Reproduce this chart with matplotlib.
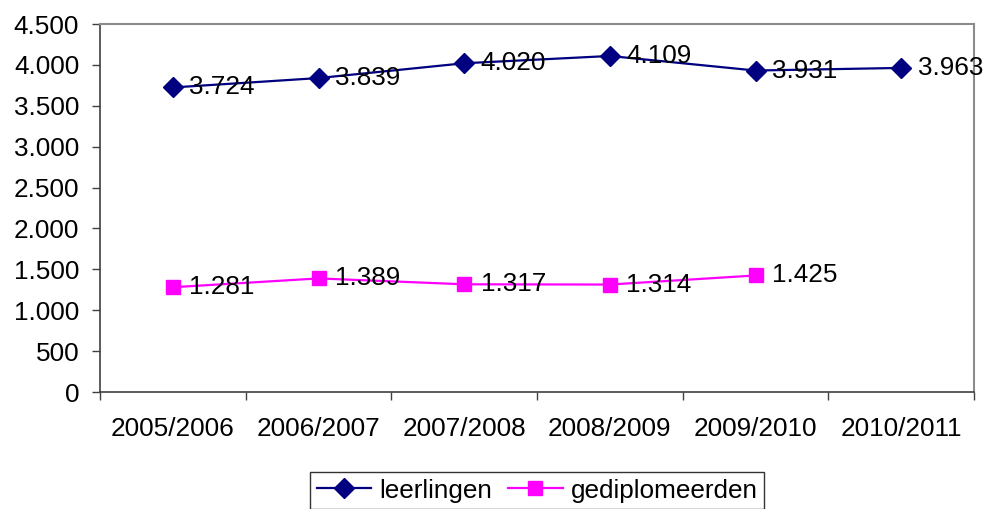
import matplotlib.pyplot as plt
from matplotlib.ticker import FuncFormatter

# Gegevens
jaren = ["2005/2006", "2006/2007", "2007/2008", "2008/2009", "2009/2010", "2010/2011"]
leerlingen = [3724, 3839, 4020, 4109, 3931, 3963]
gediplomeerden = [1281, 1389, 1317, 1314, 1425]

plt.rcParams['font.family'] = ['Liberation Sans', 'DejaVu Sans']
fs = 18.8

fig = plt.figure(figsize=(9.94, 5.09), dpi=100)
ax = fig.add_axes([100/994, 1 - 392/509, 874/994, 368/509])

x1 = list(range(len(leerlingen)))
x2 = list(range(len(gediplomeerden)))

ax.plot(x1, leerlingen, color='#000080', lw=1.6, marker='D', ms=10, label='leerlingen')
ax.plot(x2, gediplomeerden, color='#FF00FF', lw=1.6, marker='s', ms=10.5, label='gediplomeerden')

def fmt(v):
    return f"{v:,.0f}".replace(",", ".")

for x, y in zip(x1, leerlingen):
    ax.annotate(fmt(y), (x, y), xytext=(12, 0), textcoords='offset points',
                ha='left', va='center', fontsize=fs)
for x, y in zip(x2, gediplomeerden):
    ax.annotate(fmt(y), (x, y), xytext=(12, 0), textcoords='offset points',
                ha='left', va='center', fontsize=fs)

ax.set_xlim(-0.5, len(jaren) - 0.5)
ax.set_ylim(0, 4500)
ax.set_yticks(range(0, 4501, 500))
ax.yaxis.set_major_formatter(FuncFormatter(lambda v, p: fmt(v)))

ax.set_xticks(x1)
ax.set_xticklabels(jaren)
ax.set_xticks([i - 0.5 for i in range(len(jaren) + 1)], minor=True)
ax.tick_params(axis='x', which='major', length=0, pad=18, labelsize=fs)
ax.tick_params(axis='x', which='minor', length=6, width=1, color='#404040')
ax.tick_params(axis='y', length=6, width=1, color='#404040', pad=9, labelsize=fs)

for s in ['left', 'bottom']:
    ax.spines[s].set_color('#404040')
    ax.spines[s].set_linewidth(1.2)
for s in ['top', 'right']:
    ax.spines[s].set_color('#8c8c8c')
    ax.spines[s].set_linewidth(1.5)

leg = fig.legend(loc='upper center', bbox_to_anchor=(537/994, 37/509), ncol=2,
                 fontsize=fs, frameon=True, fancybox=False, edgecolor='black',
                 handlelength=2.1, columnspacing=0.6, handletextpad=0.3,
                 borderpad=0.25, borderaxespad=0)
leg.get_frame().set_linewidth(1)

fig.savefig('out.png', dpi=100)
